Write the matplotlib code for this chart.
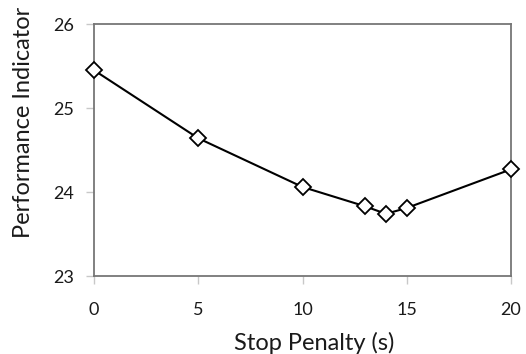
import matplotlib
matplotlib.use("Agg")
import matplotlib.pyplot as plt

stop_penalty = [0, 5, 10, 13, 14, 15, 20]
performance = [25.45, 24.64, 24.06, 23.83, 23.74, 23.81, 24.27]
x_ticks = [0, 5, 10, 15, 20]
y_ticks = [23, 24, 25, 26]

plt.rcParams['font.family'] = ['Lato', 'DejaVu Sans']

fig = plt.figure(figsize=(5.26, 3.54), dpi=100)
ax = fig.add_axes([0.1787, 0.2203, 0.7928, 0.7119])

ax.plot(stop_penalty, performance, color='black', linewidth=1.5,
        marker='D', markersize=8.5, markerfacecolor='white',
        markeredgecolor='black', markeredgewidth=1.3, clip_on=False, zorder=3)

ax.set_xlim(0, 20)
ax.set_ylim(23, 26)
ax.set_xticks(x_ticks)
ax.set_yticks(y_ticks)

for s in ax.spines.values():
    s.set_color('#767676')
    s.set_linewidth(1.3)

ax.tick_params(axis='both', colors='#c8c8c8', length=5.5, width=1,
               labelcolor='#1a1a1a', labelsize=13)
ax.tick_params(axis='x', pad=13)
ax.tick_params(axis='y', pad=9)

ax.set_xlabel('Stop Penalty (s)', fontsize=17, color='#1a1a1a')
ax.set_ylabel('Performance Indicator', fontsize=17, color='#1a1a1a')
ax.xaxis.set_label_coords(0.598, 0.031, transform=fig.transFigure)
ax.xaxis.label.set_va('center')
ax.yaxis.set_label_coords(0.044, 0.654, transform=fig.transFigure)
ax.yaxis.label.set_va('center')

fig.savefig('out.png', dpi=100, facecolor='white')
